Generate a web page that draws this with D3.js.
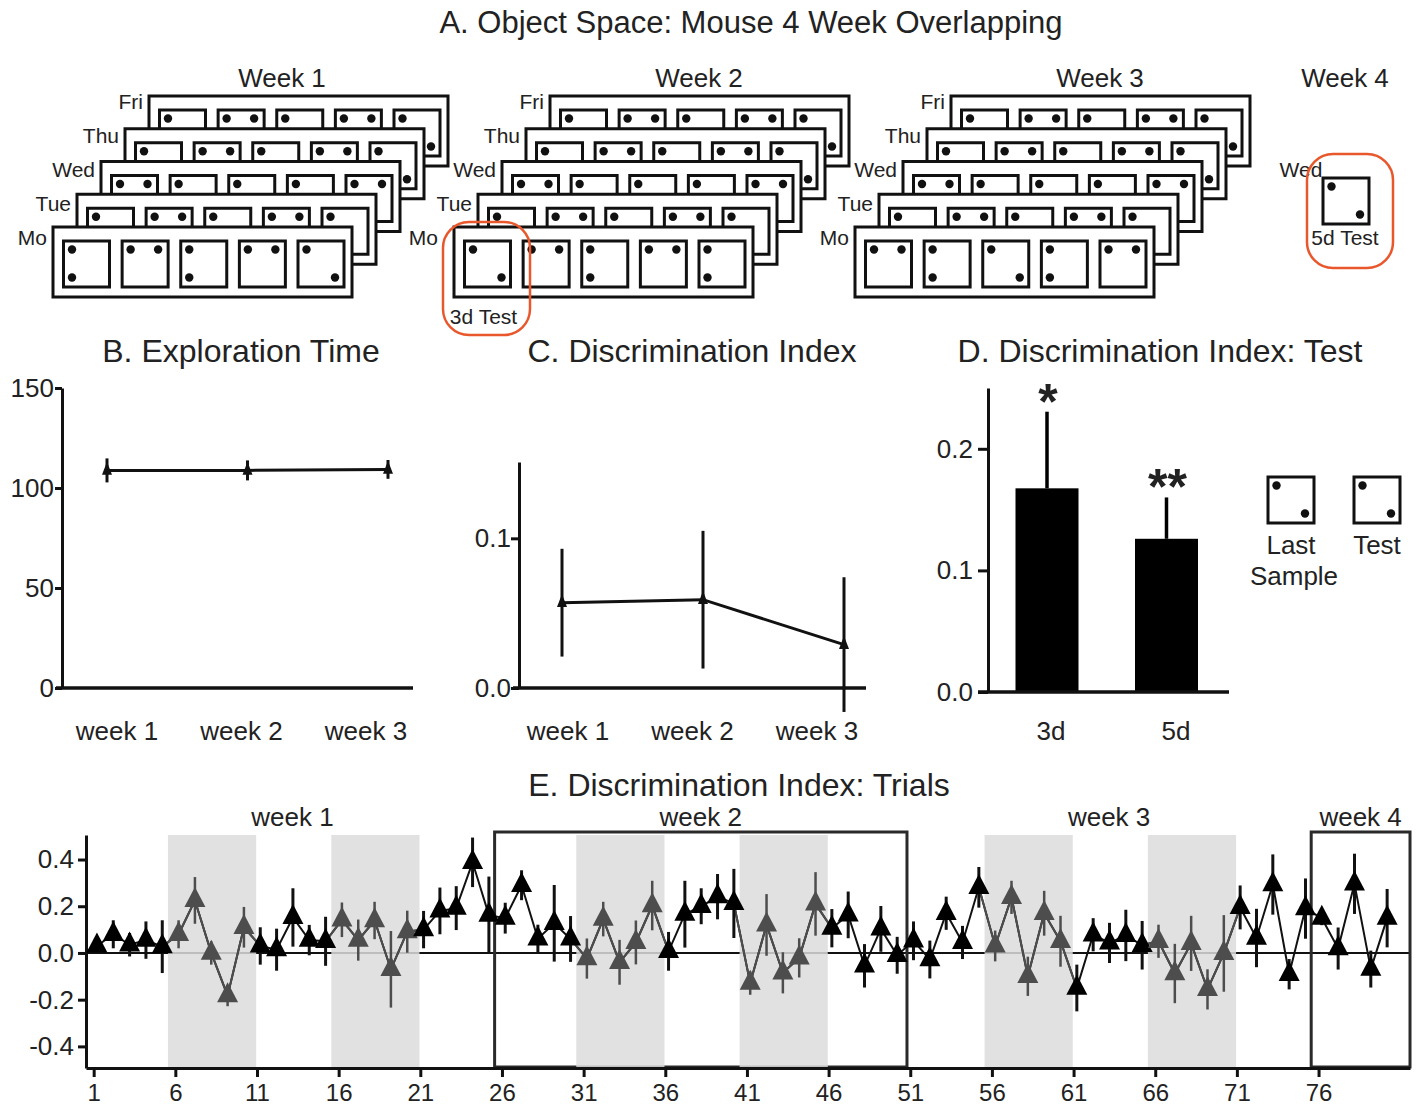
<!DOCTYPE html>
<html>
<head>
<meta charset="utf-8">
<script src="https://cdn.jsdelivr.net/npm/d3@7"></script>
<style>
  body { margin: 0; background: #fff; }
  svg text { font-family: "Liberation Sans", Arial, Helvetica, sans-serif; fill: #222; }
</style>
</head>
<body>
<svg width="1416" height="1107"></svg>
<script>
// ---- panel A: schedule schematic ----
var days = ["Mo", "Tue", "Wed", "Thu", "Fri"];
var weekNames = ["Week 1", "Week 2", "Week 3"];
// object corners in each arena (5 sessions per day)
var monLayouts = [
  ["TL BL", "TL TR", "TL BL", "TL TR", "TL BR"],
  ["TL BR", "TL TR", "TL BL", "TL TR", "TL BL"],
  ["TL TR", "TL BL", "TL BR", "TL BL", "TL TR"]
];
var laterLayouts = [ // Tue, Wed, Thu, Fri
  ["TL BL", "TL TR", "TL BL", "TL TR", "TL BL"],
  ["TL TR", "TL BL", "TL BL", "TL BL", "TL TR"],
  ["TL BL", "TL TR", "TL BL", "TL TR", "TL BR"],
  ["TL BL", "TL TR", "TL BL", "TL TR", "TL BR"]
];
var week4Layout = "TL BR";
var legendNames = [["Last", "Sample"], ["Test"]];
var legendLayouts = ["TL BR", "TL BR"];

// ---- panel B ----
var weekCats = ["week 1", "week 2", "week 3"];
var exploreMean = [108.8, 108.8, 109.3];
var exploreSem = [6, 5, 4.7];

// ---- panel C ----
var discMean = [0.057, 0.059, 0.029];
var discSem = [0.036, 0.046, 0.045];

// ---- panel D ----
var testGroups = ["3d", "5d"];
var testMean = [0.1675, 0.126];
var testSem = [0.063, 0.034];
var testStars = ["*", "**"];

// ---- panel E ----
var trialMean = [
  0.03, 0.08, 0.035, 0.055, 0.027, 0.08, 0.225, 0.0, -0.183, 0.11,
  0.03, 0.014, 0.152, 0.055, 0.05, 0.142, 0.055, 0.139, -0.07, 0.091,
  0.1, 0.18, 0.192, 0.388, 0.162, 0.149, 0.29, 0.061, 0.127, 0.06,
  -0.024, 0.145, -0.04, 0.045, 0.203, 0.007, 0.166, 0.2, 0.241, 0.212,
  -0.129, 0.12, -0.085, -0.021, 0.21, 0.106, 0.163, -0.055, 0.103, -0.01,
  0.052, -0.028, 0.17, 0.045, 0.281, 0.03, 0.238, -0.1, 0.17, 0.05,
  -0.15, 0.078, 0.043, 0.075, 0.033, 0.05, -0.088, 0.041, -0.156, -0.002,
  0.195, 0.064, 0.293, -0.091, 0.19, 0.149, 0.019, 0.296, -0.069, 0.149
];
var trialSem = [
  0.02, 0.06, 0.05, 0.08, 0.113, 0.06, 0.1, 0.05, 0.045, 0.087,
  0.08, 0.09, 0.125, 0.065, 0.105, 0.074, 0.088, 0.08, 0.164, 0.09,
  0.08, 0.1, 0.094, 0.106, 0.165, 0.066, 0.064, 0.06, 0.164, 0.098,
  0.086, 0.074, 0.096, 0.094, 0.106, 0.083, 0.143, 0.077, 0.097, 0.148,
  0.05, 0.132, 0.088, 0.084, 0.136, 0.082, 0.1, 0.093, 0.098, 0.079,
  0.083, 0.081, 0.071, 0.071, 0.087, 0.066, 0.071, 0.084, 0.096, 0.109,
  0.1, 0.071, 0.086, 0.11, 0.104, 0.071, 0.127, 0.118, 0.086, 0.164,
  0.094, 0.125, 0.129, 0.065, 0.129, 0.03, 0.09, 0.129, 0.079, 0.125
];
var shadedStarts = [6, 16, 31, 41, 56, 66];   // 5 trials each
var trialWeeks = ["week 1", "week 2", "week 3", "week 4"];
var weekFirst = [1, 26, 51, 76];
var weekLast = [25, 50, 75, 80];
var boxedWeeks = ["week 2", "week 4"];
var trialTicks = [1, 6, 11, 16, 21, 26, 31, 36, 41, 46, 51, 56, 61, 66, 71, 76];

var svg = d3.select("svg");
var INK = "#111", GREY = "#4d4d4d", RED = "#e8582c";

function tri(h, w) {
  return "M0," + (-h * 2 / 3) + "L" + (w / 2) + "," + (h / 3) + "L" + (-w / 2) + "," + (h / 3) + "Z";
}

function styleAxis(g, size) {
  g.attr("font-family", null).attr("font-size", null);
  g.select(".domain").attr("stroke", INK).attr("stroke-width", 3);
  g.selectAll(".tick line").attr("stroke", INK).attr("stroke-width", 3);
  g.selectAll(".tick text").attr("font-size", size).attr("fill", "#222");
}

function title(x, y, txt, size) {
  svg.append("text").attr("x", x).attr("y", y).attr("text-anchor", "middle")
    .attr("font-size", size || 32).text(txt);
}

// ================= A =================
title(751, 33, "A. Object Space: Mouse 4 Week Overlapping", 31);

var weekLeft = d3.scaleLinear().domain([0, 2]).range([53, 855]);
var weekLabelX = d3.scaleLinear().domain([0, 1, 2]).range([282, 699, 1100]);
var dayShift = d3.scaleLinear().domain([0, 4]).range([0, 96]);
var dayTop = d3.scaleLinear().domain([0, 4]).range([227, 96]);
var dayLabelY = d3.scaleLinear().domain([0, 4]).range([245, 109]);
var boxLeft = d3.scaleLinear().domain([0, 4]).range([10.5, 245]);
var FRAME_W = 299, FRAME_H = 70, BOX = 46, BOX_TOP = 14;
var corner = { TL: [8.5, 8.5], TR: [36, 8.5], BL: [8.5, 36.5], BR: [37, 36.5] };

function drawArena(g, x, y, layout) {
  g.append("rect").attr("x", x).attr("y", y).attr("width", BOX).attr("height", BOX)
    .attr("fill", "#fff").attr("stroke", INK).attr("stroke-width", 3);
  layout.split(" ").forEach(function (c) {
    g.append("circle").attr("cx", x + corner[c][0]).attr("cy", y + corner[c][1])
      .attr("r", 4.2).attr("fill", INK);
  });
}

weekNames.forEach(function (wk, wi) {
  var g = svg.append("g");
  var layouts = [monLayouts[wi]].concat(laterLayouts);
  d3.range(4, -1, -1).forEach(function (di) {
    var fx = weekLeft(wi) + dayShift(di), fy = dayTop(di);
    g.append("rect").attr("x", fx).attr("y", fy).attr("width", FRAME_W).attr("height", FRAME_H)
      .attr("fill", "#fff").attr("stroke", INK).attr("stroke-width", 3);
    layouts[di].forEach(function (lay, bi) {
      drawArena(g, fx + boxLeft(bi), fy + BOX_TOP, lay);
    });
    var shift = (wi === 1 && di === 0) ? 16 : 6;
    g.append("text").attr("x", fx - shift).attr("y", dayLabelY(di))
      .attr("text-anchor", "end").attr("font-size", 21).text(days[di]);
  });
  g.append("text").attr("x", weekLabelX(wi)).attr("y", 87)
    .attr("text-anchor", "middle").attr("font-size", 26).text(wk);
});

// 3d test highlight (week 2, Monday, first session)
var tx = weekLeft(1) + boxLeft(0), ty = dayTop(0) + BOX_TOP;
svg.append("rect").attr("x", tx - 21.5).attr("y", ty - 19).attr("width", 87).attr("height", 113)
  .attr("rx", 26).attr("fill", "none").attr("stroke", RED).attr("stroke-width", 2.5);
svg.append("text").attr("x", tx + 19).attr("y", 324).attr("text-anchor", "middle")
  .attr("font-size", 21).text("3d Test");

// week 4
svg.append("text").attr("x", 1345).attr("y", 87).attr("text-anchor", "middle")
  .attr("font-size", 26).text("Week 4");
svg.append("text").attr("x", 1301).attr("y", 177).attr("text-anchor", "middle")
  .attr("font-size", 21).text("Wed");
drawArena(svg, 1323, 178, week4Layout);
svg.append("rect").attr("x", 1307).attr("y", 154).attr("width", 86).attr("height", 114)
  .attr("rx", 26).attr("fill", "none").attr("stroke", RED).attr("stroke-width", 2.5);
svg.append("text").attr("x", 1345).attr("y", 245).attr("text-anchor", "middle")
  .attr("font-size", 21).text("5d Test");

// ================= B =================
title(241, 362, "B. Exploration Time");
var yB = d3.scaleLinear().domain([0, 150]).range([688, 388]);
var xB = d3.scalePoint().domain(weekCats).range([107, 388]);
var xBLab = d3.scalePoint().domain(weekCats).range([117, 366]);
var gB = svg.append("g");
gB.append("g").attr("transform", "translate(62,0)")
  .call(d3.axisLeft(yB).tickValues([0, 50, 100, 150]).tickSize(7).tickSizeOuter(0).tickPadding(1))
  .call(styleAxis, 26);
gB.append("line").attr("x1", 56).attr("x2", 413).attr("y1", yB(0)).attr("y2", yB(0))
  .attr("stroke", INK).attr("stroke-width", 3.5);
weekCats.forEach(function (w) {
  gB.append("text").attr("x", xBLab(w)).attr("y", 740).attr("text-anchor", "middle")
    .attr("font-size", 26).text(w);
});
gB.selectAll(".eb").data(weekCats).join("line")
  .attr("x1", function (d) { return xB(d); }).attr("x2", function (d) { return xB(d); })
  .attr("y1", function (d, i) { return yB(exploreMean[i] - exploreSem[i]); })
  .attr("y2", function (d, i) { return yB(exploreMean[i] + exploreSem[i]); })
  .attr("stroke", INK).attr("stroke-width", 3);
gB.append("path").datum(weekCats)
  .attr("d", d3.line().x(function (d) { return xB(d); }).y(function (d, i) { return yB(exploreMean[i]); }))
  .attr("fill", "none").attr("stroke", INK).attr("stroke-width", 3);
gB.selectAll(".pt").data(weekCats).join("path")
  .attr("d", tri(13, 10)).attr("fill", INK)
  .attr("transform", function (d, i) { return "translate(" + xB(d) + "," + yB(exploreMean[i]) + ")"; });

// ================= C =================
title(692, 362, "C. Discrimination Index");
var yC = d3.scaleLinear().domain([0, 0.151]).range([688, 462]);
var xC = d3.scalePoint().domain(weekCats).range([562, 844]);
var xCLab = d3.scalePoint().domain(weekCats).range([568, 817]);
var gC = svg.append("g");
gC.append("g").attr("transform", "translate(519,0)")
  .call(d3.axisLeft(yC).tickValues([0, 0.1]).tickFormat(function (d) { return d.toFixed(1); })
    .tickSize(8).tickSizeOuter(0).tickPadding(0))
  .call(styleAxis, 26);
gC.append("line").attr("x1", 513).attr("x2", 866).attr("y1", yC(0)).attr("y2", yC(0))
  .attr("stroke", INK).attr("stroke-width", 3.5);
weekCats.forEach(function (w) {
  gC.append("text").attr("x", xCLab(w)).attr("y", 740).attr("text-anchor", "middle")
    .attr("font-size", 26).text(w);
});
gC.selectAll(".eb").data(weekCats).join("line")
  .attr("x1", function (d) { return xC(d); }).attr("x2", function (d) { return xC(d); })
  .attr("y1", function (d, i) { return yC(discMean[i] - discSem[i]); })
  .attr("y2", function (d, i) { return yC(discMean[i] + discSem[i]); })
  .attr("stroke", INK).attr("stroke-width", 3);
gC.append("path").datum(weekCats)
  .attr("d", d3.line().x(function (d) { return xC(d); }).y(function (d, i) { return yC(discMean[i]); }))
  .attr("fill", "none").attr("stroke", INK).attr("stroke-width", 3);
gC.selectAll(".pt").data(weekCats).join("path")
  .attr("d", tri(13, 10)).attr("fill", INK)
  .attr("transform", function (d, i) { return "translate(" + xC(d) + "," + yC(discMean[i]) + ")"; });

// ================= D =================
title(1160, 362, "D. Discrimination Index: Test");
var yD = d3.scaleLinear().domain([0, 0.25]).range([692, 388]);
var xD = d3.scalePoint().domain(testGroups).range([1047, 1166.5]);
var xDLab = d3.scalePoint().domain(testGroups).range([1051, 1176]);
var BAR_W = 63;
var gD = svg.append("g");
gD.selectAll(".bar").data(testGroups).join("rect")
  .attr("x", function (d) { return xD(d) - BAR_W / 2; }).attr("width", BAR_W)
  .attr("y", function (d, i) { return yD(testMean[i]); })
  .attr("height", function (d, i) { return yD(0) - yD(testMean[i]); })
  .attr("fill", "#000");
gD.selectAll(".eb").data(testGroups).join("line")
  .attr("x1", function (d) { return xD(d); }).attr("x2", function (d) { return xD(d); })
  .attr("y1", function (d, i) { return yD(testMean[i]); })
  .attr("y2", function (d, i) { return yD(testMean[i] + testSem[i]); })
  .attr("stroke", "#000").attr("stroke-width", 3.5);
gD.selectAll(".star").data(testGroups).join("text")
  .attr("x", function (d) { return xD(d) + 1; })
  .attr("y", function (d, i) { return yD(testMean[i] + testSem[i]) + 7; })
  .attr("text-anchor", "middle").attr("font-size", 50).attr("font-weight", "bold")
  .text(function (d, i) { return testStars[i]; });
gD.append("g").attr("transform", "translate(988,0)")
  .call(d3.axisLeft(yD).tickValues([0, 0.1, 0.2]).tickFormat(function (d) { return d.toFixed(1); })
    .tickSize(10).tickSizeOuter(0).tickPadding(5))
  .call(styleAxis, 26);
gD.append("line").attr("x1", 978).attr("x2", 1229).attr("y1", yD(0)).attr("y2", yD(0))
  .attr("stroke", INK).attr("stroke-width", 3.5);
testGroups.forEach(function (gname) {
  gD.append("text").attr("x", xDLab(gname)).attr("y", 740).attr("text-anchor", "middle")
    .attr("font-size", 26).text(gname);
});
// legend arenas
var legX = d3.scalePoint().domain([0, 1]).range([1268, 1354]);
legendNames.forEach(function (lines, i) {
  drawArena(svg, legX(i), 477, legendLayouts[i]);
  lines.forEach(function (ln, j) {
    svg.append("text").attr("x", legX(i) + 23 + (j === 1 ? 3 : 0)).attr("y", 554 + j * 31)
      .attr("text-anchor", "middle").attr("font-size", 26).text(ln);
  });
});

// ================= E =================
title(739, 796, "E. Discrimination Index: Trials");
var trials = d3.range(1, trialMean.length + 1);
var yE = d3.scaleLinear().domain([-0.4925, 0.505]).range([1068, 835]);
var xE = d3.scaleLinear().domain([0.53, 81.6]).range([86, 1410]);
var px = function (t) { return xE(t + 0.2); };
var isGrey = function (t) { return shadedStarts.some(function (s) { return t >= s && t < s + 5; }); };
var gE = svg.append("g");

gE.append("line").attr("x1", xE.range()[0]).attr("x2", xE.range()[1])
  .attr("y1", yE(0)).attr("y2", yE(0)).attr("stroke", INK).attr("stroke-width", 2);

trialWeeks.forEach(function (w, i) {
  var left = xE(weekFirst[i] - 0.45);
  var right = i === trialWeeks.length - 1 ? xE.range()[1] : xE(weekLast[i] + 0.8);
  if (boxedWeeks.indexOf(w) >= 0) {
    gE.append("rect").attr("x", left).attr("y", 832).attr("width", right - left)
      .attr("height", yE.range()[0] - 1 - 832)
      .attr("fill", "none").attr("stroke", "#2a2a2a").attr("stroke-width", 3);
  }
  gE.append("text").attr("x", (left + right) / 2).attr("y", 826).attr("text-anchor", "middle")
    .attr("font-size", 26).text(w);
});

shadedStarts.forEach(function (s) {
  gE.append("rect").attr("x", xE(s - 0.45)).attr("y", yE.range()[1])
    .attr("width", xE(s + 4.95) - xE(s - 0.45)).attr("height", yE.range()[0] - yE.range()[1])
    .attr("fill", "#dcdcdc").attr("opacity", 0.85);
});

gE.append("g").attr("transform", "translate(86,0)")
  .call(d3.axisLeft(yE).tickValues([-0.4, -0.2, 0, 0.2, 0.4])
    .tickFormat(function (d) { return d.toFixed(1); }).tickSize(8).tickSizeOuter(0).tickPadding(4))
  .call(styleAxis, 26);
gE.append("g").attr("transform", "translate(0,1068)")
  .call(d3.axisBottom(xE).tickValues(trialTicks).tickSize(9).tickSizeOuter(0).tickPadding(7))
  .call(styleAxis, 24);

var lineE = d3.line().x(function (t) { return px(t); }).y(function (t) { return yE(trialMean[t - 1]); });
gE.append("path").datum(trials).attr("d", lineE)
  .attr("fill", "none").attr("stroke", INK).attr("stroke-width", 2);
shadedStarts.forEach(function (s) {
  gE.append("path").datum(d3.range(s - 1, s + 6)).attr("d", lineE)
    .attr("fill", "none").attr("stroke", GREY).attr("stroke-width", 2);
});

gE.selectAll(".eb").data(trials).join("line")
  .attr("x1", px).attr("x2", px)
  .attr("y1", function (t) { return yE(trialMean[t - 1] - trialSem[t - 1]); })
  .attr("y2", function (t) { return yE(trialMean[t - 1] + trialSem[t - 1]); })
  .attr("stroke", function (t) { return isGrey(t) ? GREY : INK; })
  .attr("stroke-width", function (t) { return isGrey(t) ? 2.5 : 3; });

gE.selectAll(".pt").data(trials).join("path")
  .attr("d", tri(20, 21))
  .attr("fill", function (t) { return isGrey(t) ? GREY : "#000"; })
  .attr("transform", function (t) { return "translate(" + px(t) + "," + yE(trialMean[t - 1]) + ")"; });
</script>
</body>
</html>
